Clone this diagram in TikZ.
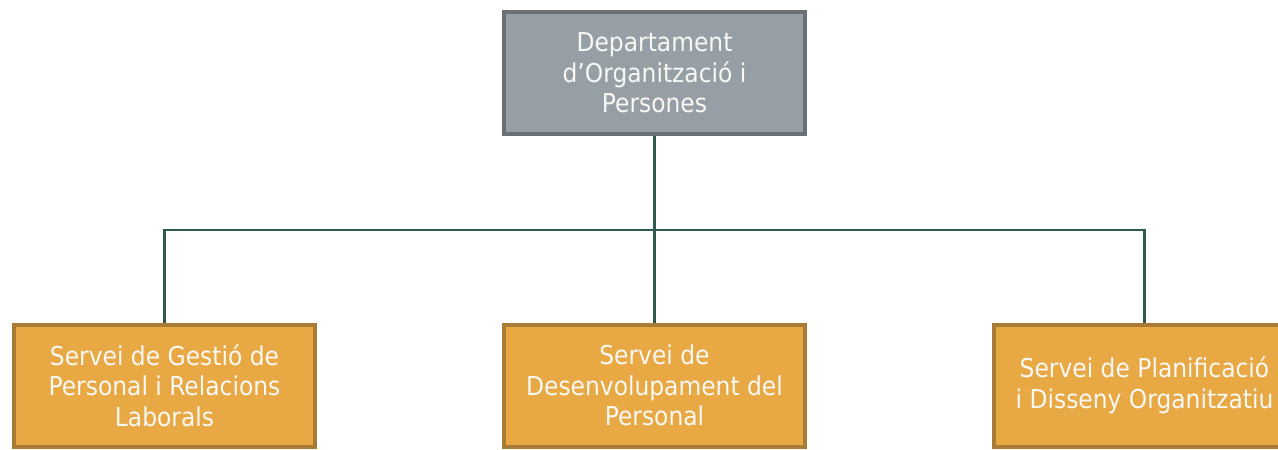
\documentclass[tikz,border=0pt]{standalone}
\usepackage{fontspec}
\setmainfont{DejaVu Sans Condensed}
\definecolor{topfill}{HTML}{969EA6}
\definecolor{topline}{HTML}{6A7176}
\definecolor{orfill}{HTML}{E8A844}
\definecolor{orline}{HTML}{A97C36}
\definecolor{conn}{HTML}{2F5A4F}
\definecolor{txt}{HTML}{F8F8F4}
\begin{document}
\begin{tikzpicture}[x=1pt,y=-1pt,
  boxbase/.style={rectangle, minimum width=301pt, minimum height=122pt, line width=4pt,
     inner sep=0pt, align=center, text=txt, font=\fontsize{26}{30.5}\selectfont},
  topbox/.style={boxbase, fill=topfill, draw=topline},
  orbox/.style={boxbase, fill=orfill, draw=orline},
  link/.style={draw=conn, line width=2.2pt}]
\useasboundingbox (0,0) rectangle (1278,450);
\begin{scope}
\clip (0,0) rectangle (1278,450);
\node[topbox] (top) at (654.5,73) {Departament\\d’Organització i\\Persones};
\node[orbox] (left) at (164.5,385.5) {Servei de Gestió de\\Personal i Relacions\\Laborals};
\node[orbox] (mid) at (654.5,385.5) {Servei de\\Desenvolupament del\\Personal};
\node[orbox] (right) at (1144.5,385.5) {Servei de Planificació\\i Disseny Organitzatiu};
\coordinate (bus) at (654.5,230);
\draw[link] (top.south) -- (bus);
\draw[link] (left.north) |- (bus) -| (right.north);
\draw[link] (bus) -- (mid.north);
\end{scope}
\end{tikzpicture}
\end{document}
